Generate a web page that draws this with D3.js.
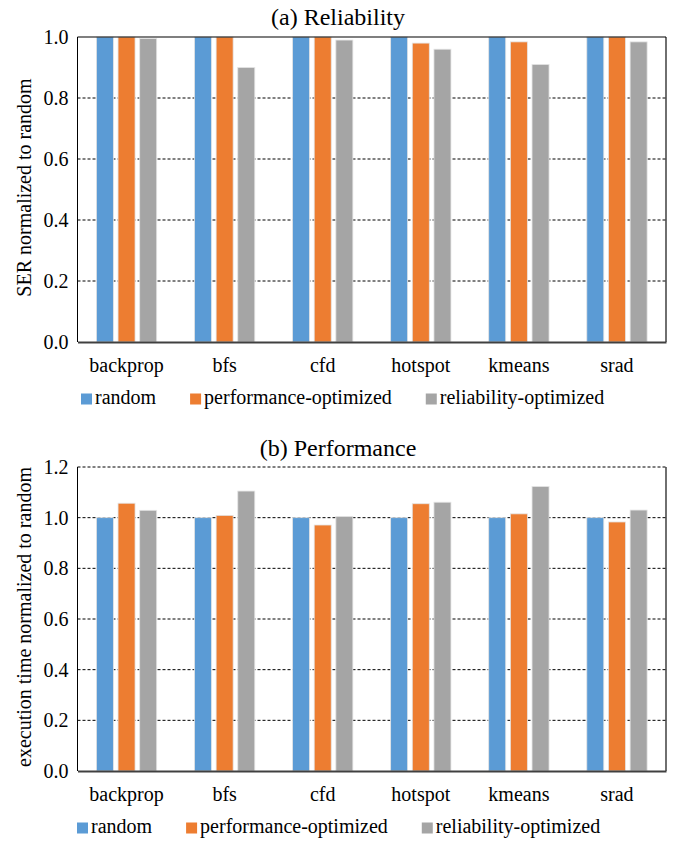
<!DOCTYPE html>
<html lang="en">
<head>
<meta charset="UTF-8">
<script src="https://d3js.org/d3.v7.min.js"></script>
<title>SER / performance</title>
<style>
    body { margin: 0; background: #fff; }
    text { font-family: "Liberation Serif", "Times New Roman", serif; fill: #000; }
</style>
</head>
<body>
<script>
    /*------------------- data --------------------*/
    const categories = ["backprop", "bfs", "cfd", "hotspot", "kmeans", "srad"];
    const seriesNames = ["random", "performance-optimized", "reliability-optimized"];
    const seriesColors = ["#5B9BD5", "#ED7D31", "#A5A5A5"];

    // (a) SER normalized to random
    const serRandom = [1.0, 1.0, 1.0, 1.0, 1.0, 1.0];
    const serPerf = [1.0, 1.0, 1.0, 0.98, 0.984, 1.0];
    const serRel = [0.995, 0.90, 0.99, 0.96, 0.91, 0.984];
    const serTicks = [0, 0.2, 0.4, 0.6, 0.8, 1.0];

    // (b) execution time normalized to random
    const timeRandom = [1.0, 1.0, 1.0, 1.0, 1.0, 1.0];
    const timePerf = [1.057, 1.009, 0.971, 1.055, 1.015, 0.983];
    const timeRel = [1.029, 1.105, 1.005, 1.061, 1.123, 1.030];
    const timeTicks = [0, 0.2, 0.4, 0.6, 0.8, 1.0, 1.2];

    /*------------------- layout --------------------*/
    const W = 676, H = 843;
    const plotLeft = 77.5, plotRight = 666;

    const svg = d3.select("body").append("svg")
        .attr("width", W)
        .attr("height", H);

    const x0 = d3.scaleBand().domain(categories).range([plotLeft, plotRight]);
    const groupW = x0.bandwidth() * 0.615;
    const x1 = d3.scaleBand().domain(seriesNames).range([0, groupW]).paddingInner(0.215);
    const color = d3.scaleOrdinal().domain(seriesNames).range(seriesColors);

    function drawPanel(cfg) {
        const g = svg.append("g");
        const y = d3.scaleLinear().domain([0, cfg.ticks[cfg.ticks.length - 1]]).range([cfg.bottom, cfg.top]);

        // title
        g.append("text")
            .attr("x", W / 2)
            .attr("y", cfg.titleY)
            .attr("text-anchor", "middle")
            .style("font-size", "24px")
            .text(cfg.title);

        // dashed gridlines
        g.selectAll("line.grid")
            .data(cfg.ticks.filter(t => t > 0 && !(cfg.solidTop && t === cfg.ticks[cfg.ticks.length - 1])))
            .enter().append("line")
            .attr("class", "grid")
            .attr("x1", plotLeft).attr("x2", plotRight)
            .attr("y1", d => y(d)).attr("y2", d => y(d))
            .attr("stroke", "#000")
            .attr("stroke-width", 1)
            .attr("stroke-dasharray", "3,2");

        // y tick labels
        const yAxis = g.append("g")
            .attr("transform", `translate(${plotLeft},0)`)
            .call(d3.axisLeft(y).tickValues(cfg.ticks).tickFormat(d3.format(".1f")).tickSize(0).tickPadding(9));
        yAxis.select(".domain").remove();
        yAxis.selectAll("text").style("font-size", "20px").attr("fill", "#000")
            .style("font-family", '"Liberation Serif", "Times New Roman", serif');

        // bars
        const rows = categories.map((c, i) => ({ c: c, v: cfg.values.map(s => s[i]) }));
        g.selectAll("g.grp")
            .data(rows)
            .enter().append("g")
            .attr("transform", d => `translate(${x0(d.c) + (x0.bandwidth() - groupW) / 2},0)`)
            .selectAll("rect")
            .data(d => d.v.map((v, k) => ({ s: seriesNames[k], v: v })))
            .enter().append("rect")
            .attr("x", d => x1(d.s))
            .attr("width", x1.bandwidth())
            .attr("y", d => y(d.v))
            .attr("height", d => y(0) - y(d.v))
            .attr("fill", d => color(d.s))
            .attr("stroke", "#e4e4e4")
            .attr("stroke-width", 0.8);

        // frame
        g.append("line").attr("x1", plotLeft).attr("x2", plotLeft).attr("y1", cfg.top).attr("y2", cfg.bottom)
            .attr("stroke", "#000").attr("stroke-width", 1);
        g.append("line").attr("x1", plotRight).attr("x2", plotRight).attr("y1", cfg.top).attr("y2", cfg.bottom)
            .attr("stroke", "#222").attr("stroke-width", 1.3);
        if (cfg.solidTop) {
            g.append("line").attr("x1", plotLeft).attr("x2", plotRight).attr("y1", cfg.top).attr("y2", cfg.top)
                .attr("stroke", "#000").attr("stroke-width", 1.2);
        }

        // x axis
        const xAxis = g.append("g")
            .attr("transform", `translate(0,${cfg.bottom})`)
            .call(d3.axisBottom(x0).tickSize(0).tickPadding(16));
        xAxis.select(".domain").attr("stroke", "#404040").attr("stroke-width", 1.8);
        xAxis.selectAll("text").style("font-size", "20px").attr("fill", "#000")
            .style("font-family", '"Liberation Serif", "Times New Roman", serif');

        // y label
        g.append("text")
            .attr("transform", `translate(${cfg.labelX},${(cfg.top + cfg.bottom) / 2 - 2}) rotate(-90)`)
            .attr("text-anchor", "middle")
            .style("font-size", "20px")
            .text(cfg.yLabel);

        // legend
        let lx = cfg.legendX;
        const ly = cfg.bottom + 62;
        seriesNames.forEach((s, k) => {
            g.append("rect")
                .attr("x", lx).attr("y", ly - 10.5)
                .attr("width", 11).attr("height", 11)
                .attr("fill", seriesColors[k]);
            const t = g.append("text")
                .attr("x", lx + 14).attr("y", ly)
                .style("font-size", "20px")
                .text(s);
            lx += 14 + t.node().getComputedTextLength() + 34;
        });
    }

    drawPanel({
        title: "(a) Reliability", titleY: 25,
        top: 37, bottom: 342, ticks: serTicks, solidTop: true,
        values: [serRandom, serPerf, serRel],
        yLabel: "SER normalized to random", labelX: 31,
        legendX: 81
    });

    drawPanel({
        title: "(b) Performance", titleY: 456,
        top: 467, bottom: 771, ticks: timeTicks, solidTop: false,
        values: [timeRandom, timePerf, timeRel],
        yLabel: "execution time normalized to random", labelX: 31,
        legendX: 77
    });
</script>
</body>
</html>
